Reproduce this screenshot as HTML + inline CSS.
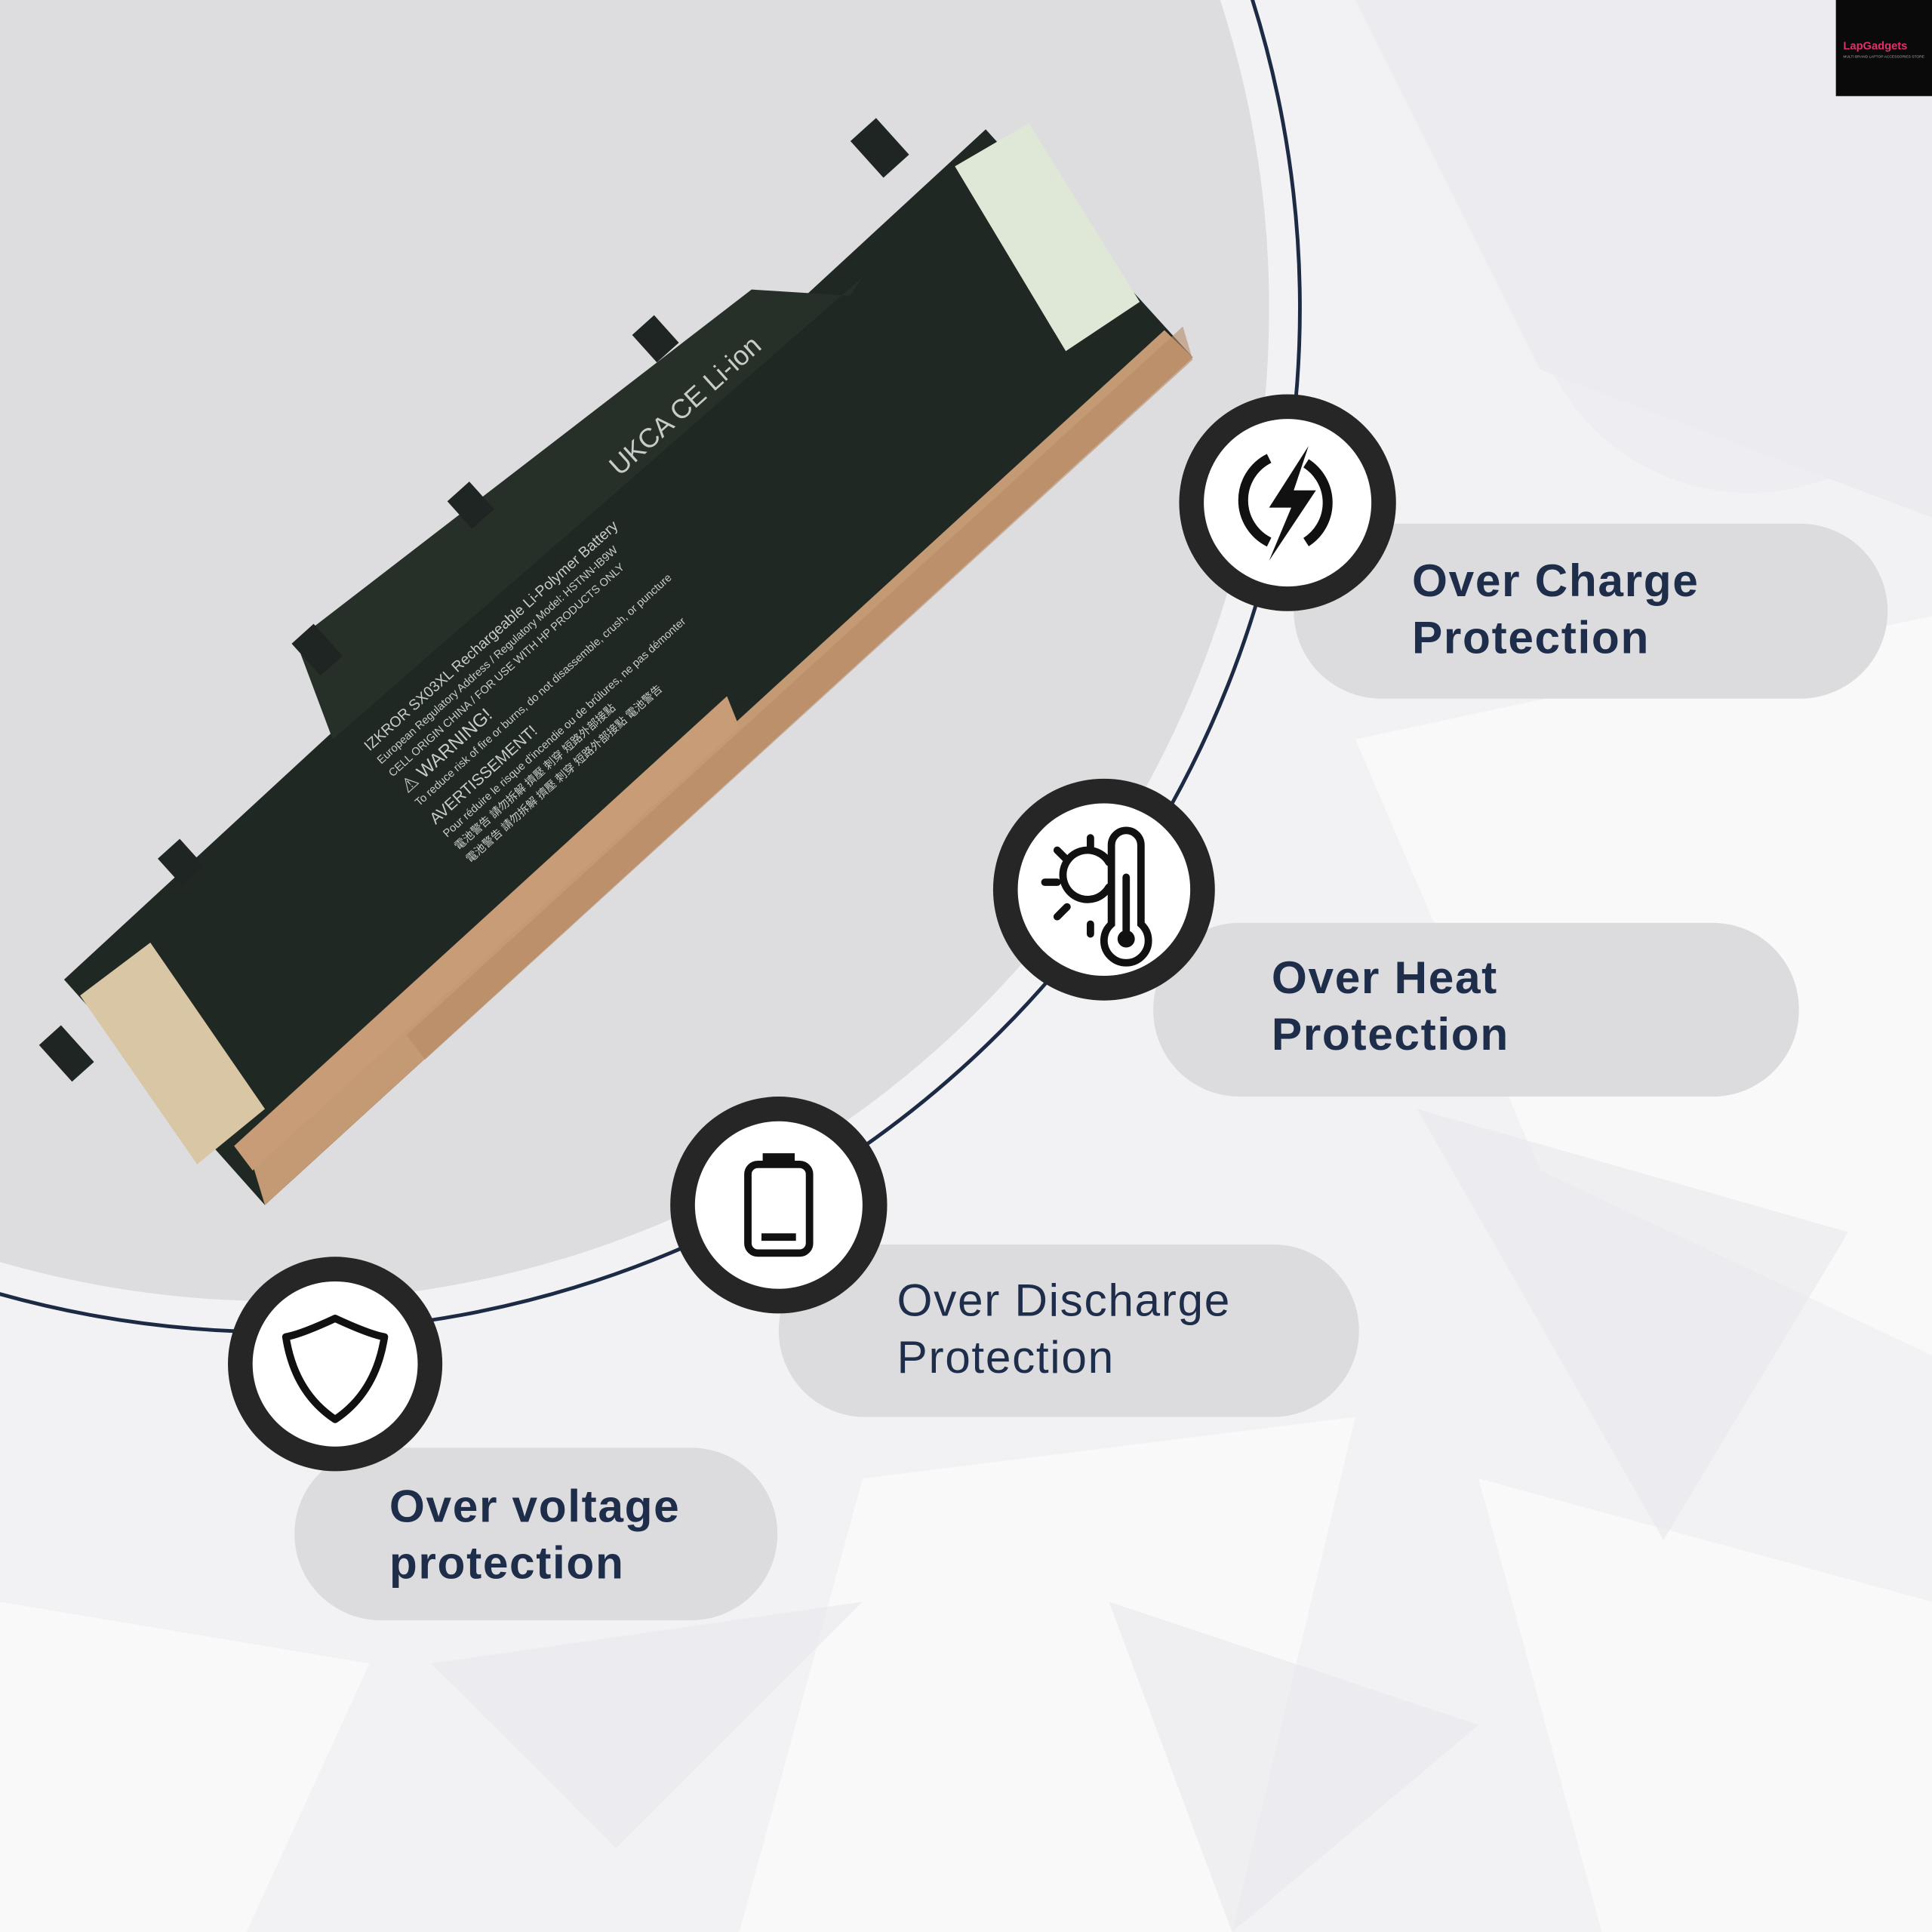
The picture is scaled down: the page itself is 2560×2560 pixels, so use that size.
<!DOCTYPE html>
<html><head><meta charset="utf-8"><style>
html,body{margin:0;padding:0;background:#f3f3f5}
svg{display:block}
text{font-family:"Liberation Sans",sans-serif}
</style></head><body>
<svg width="2560" height="2560" viewBox="0 0 1568 1568" xmlns="http://www.w3.org/2000/svg">
<rect width="1568" height="1568" fill="#f2f2f4"/>
<g fill="#ffffff" opacity="0.55">
<polygon points="1100,600 1568,500 1568,1100 1250,950"/>
<polygon points="700,1200 1100,1150 1000,1568 600,1568"/>
<polygon points="0,1300 300,1350 200,1568 0,1568"/>
<polygon points="1200,1200 1568,1300 1568,1568 1300,1568"/>
</g>
<g fill="#e8e8ec" opacity="0.6">
<polygon points="1100,0 1568,0 1568,420 1250,300"/>
<polygon points="1150,900 1500,1000 1350,1250"/>
<polygon points="350,1350 700,1300 500,1500"/>
<polygon points="900,1300 1200,1400 1000,1568"/>
</g>
<circle cx="1420" cy="220" r="180" fill="#ebebf0" opacity="0.6"/>
<circle cx="224" cy="250" r="806" fill="#dddddf"/>
<circle cx="224" cy="250" r="831" fill="none" stroke="#1c2a44" stroke-width="3"/>

<!-- battery -->
<g>
<polygon points="52,795 800,105 968,290 215,978" fill="#202824"/>
<polygon points="240,520 610,235 690,240 700,225 270,600" fill="#263029"/>
<polygon points="205,945 945,268 968,290 215,978" fill="#c49a74"/>
<polygon points="330,840 960,265 968,292 345,860" fill="#b88a65" opacity="0.6"/>
<polygon points="190,930 590,565 600,590 205,950" fill="#c79c76"/>
<polygon points="65,808 122,765 215,900 160,945" fill="#d9c6a4"/>
<polygon points="775,135 835,100 925,245 865,285" fill="#dfe7d6"/>
<g fill="#1e2522">
<rect x="700" y="100" width="28" height="40" transform="rotate(-42 714 120)"/>
<rect x="520" y="260" width="24" height="30" transform="rotate(-42 532 275)"/>
<rect x="370" y="395" width="24" height="30" transform="rotate(-42 382 410)"/>
<rect x="245" y="510" width="24" height="35" transform="rotate(-42 257 527)"/>
<rect x="135" y="685" width="24" height="30" transform="rotate(-42 147 700)"/>
<rect x="42" y="835" width="24" height="40" transform="rotate(-42 54 855)"/>
</g>
<g transform="translate(300,610) rotate(-42)" fill="#c8ccc8" font-size="9">
<text x="0" y="0" font-size="12">IZKROR  SX03XL  Rechargeable Li-Polymer Battery</text>
<text x="0" y="14">European Regulatory Address / Regulatory Model: HSTNN-IB9W</text>
<text x="0" y="28">CELL ORIGIN CHINA / FOR USE WITH HP PRODUCTS ONLY</text>
<text x="0" y="46" font-size="15">⚠ WARNING!</text>
<text x="0" y="60">To reduce risk of fire or burns, do not disassemble, crush, or puncture</text>
<text x="0" y="80" font-size="13">AVERTISSEMENT!</text>
<text x="0" y="94">Pour réduire le risque d'incendie ou de brûlures, ne pas démonter</text>
<text x="0" y="108">電池警告 請勿拆解 擠壓 刺穿 短路外部接點</text>
<text x="0" y="122">電池警告 請勿拆解 擠壓 刺穿 短路外部接點 電池警告</text>
<text x="300" y="-30" font-size="22">UKCA  CE   Li-ion</text>
</g>
</g>

<!-- pills -->
<rect x="1050" y="425" width="482" height="142" rx="71" fill="#dcdcde"/>
<rect x="936" y="749" width="524" height="141" rx="70" fill="#dcdcde"/>
<rect x="632" y="1010" width="471" height="140" rx="70" fill="#dcdcde"/>
<rect x="239" y="1175" width="392" height="140" rx="70" fill="#dcdcde"/>
<g fill="#1e2d4a" font-size="37" font-weight="bold" letter-spacing="1">
<text x="1146" y="484">Over Charge</text>
<text x="1146" y="530">Protection</text>
<text x="1032" y="806">Over Heat</text>
<text x="1032" y="852">Protection</text>
<text x="316" y="1235">Over voltage</text>
<text x="316" y="1281">protection</text>
</g>
<g fill="#1e2d4a" font-size="37" letter-spacing="1">
<text x="728" y="1068">Over Discharge</text>
<text x="728" y="1114">Protection</text>
</g>

<!-- icon circles -->
<g fill="#262626">
<circle cx="1045" cy="408" r="88"/>
<circle cx="896" cy="722" r="90"/>
<circle cx="632" cy="978" r="88"/>
<circle cx="272" cy="1107" r="87"/>
</g>
<g fill="#ffffff">
<circle cx="1045" cy="408" r="68"/>
<circle cx="896" cy="722" r="70"/>
<circle cx="632" cy="978" r="68"/>
<circle cx="272" cy="1107" r="67"/>
</g>
<g stroke="#111" stroke-width="8" fill="none">
<path d="M1030,440 A38,38 0 0 1 1030,372"/>
<path d="M1060,376 A38,38 0 0 1 1060,440"/>
</g>
<polygon points="1062,362 1030,412 1048,412 1030,455 1068,398 1050,398" fill="#111"/>
<g stroke="#111" stroke-width="6" fill="none" stroke-linecap="round">
<path d="M900,720 A20,20 0 1 1 900,700"/>
<line x1="885" y1="680" x2="885" y2="690"/><line x1="858" y1="690" x2="866" y2="698"/>
<line x1="848" y1="716" x2="858" y2="716"/><line x1="858" y1="744" x2="866" y2="736"/>
<line x1="885" y1="750" x2="885" y2="758"/>
<path d="M902,750 V686 a12,12 0 0 1 24,0 V750 a18,18 0 1 1 -24,0z"/>
<line x1="914" y1="712" x2="914" y2="755"/>
</g>
<circle cx="914" cy="762" r="7" fill="#111"/>
<g stroke="#111" stroke-width="6" fill="none">
<rect x="607" y="945" width="50" height="72" rx="8"/>
<line x1="619" y1="939" x2="645" y2="939"/>
<line x1="618" y1="1004" x2="646" y2="1004"/>
</g>
<path d="M272,1070 Q300,1083 312,1085 Q305,1130 272,1152 Q239,1130 232,1085 Q244,1083 272,1070z" fill="none" stroke="#111" stroke-width="6" stroke-linejoin="round"/>

<rect x="1490" y="0" width="78" height="78" fill="#0a0a0a"/>
<text x="1496" y="40" font-size="9" fill="#e0306a" font-weight="bold">LapGadgets</text>
<text x="1496" y="47" font-size="3" fill="#aaa">MULTI BRAND LAPTOP ACCESSORIES STORE</text>
</svg>
</body></html>
